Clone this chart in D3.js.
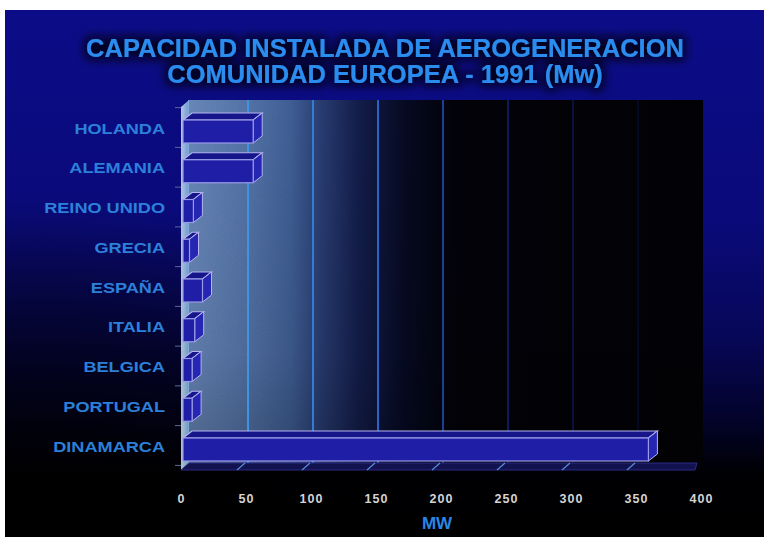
<!DOCTYPE html>
<html>
<head>
<meta charset="utf-8">
<script src="https://cdn.jsdelivr.net/npm/d3@7"></script>
<style>
  html, body { margin: 0; padding: 0; background: #ffffff; }
  svg { display: block; }
  text { font-family: "Liberation Sans", Arial, sans-serif; font-weight: bold; }
</style>
</head>
<body>
<script>
const categories = ["HOLANDA", "ALEMANIA", "REINO UNIDO", "GRECIA", "ESPAÑA", "ITALIA", "BELGICA", "PORTUGAL", "DINAMARCA"];
const values = [54, 54, 8, 5, 15, 9, 7, 7, 358];
const tickValues = [0, 50, 100, 150, 200, 250, 300, 350, 400];
const titleLines = ["CAPACIDAD INSTALADA DE AEROGENERACION", "COMUNIDAD EUROPEA - 1991 (Mw)"];
const axisTitle = "MW";

const W = 764, H = 537;
const svg = d3.select("body").append("svg").attr("width", W).attr("height", H);
const defs = svg.append("defs");

// background gradient
const bg = defs.append("linearGradient").attr("id", "bgGrad").attr("x1", 0).attr("y1", 0).attr("x2", 0).attr("y2", 1);
[[0, "#0c0c88"], [0.4, "#0a0a7a"], [0.62, "#070758"], [0.78, "#03032a"], [0.88, "#000004"], [1, "#000000"]]
  .forEach(([o, c]) => bg.append("stop").attr("offset", o).attr("stop-color", c));
const dark = defs.append("radialGradient").attr("id", "darkGrad").attr("cx", 0.05).attr("cy", 0.95).attr("r", 0.6);
[[0, "#000000", 0.85], [0.6, "#000000", 0.45], [1, "#000000", 0]]
  .forEach(([o, c, op]) => dark.append("stop").attr("offset", o).attr("stop-color", c).attr("stop-opacity", op));

// wall gradient
const wg = defs.append("linearGradient").attr("id", "wallGrad").attr("x1", 0).attr("y1", 0).attr("x2", 1).attr("y2", 0);
[[0, "#6282b4"], [0.1, "#4f6fa4"], [0.2, "#3b5a90"], [0.26, "#26396e"], [0.33, "#131d4a"], [0.42, "#060a22"], [0.52, "#020208"], [1, "#020206"]]
  .forEach(([o, c]) => wg.append("stop").attr("offset", o).attr("stop-color", c));
const wv = defs.append("linearGradient").attr("id", "wallV").attr("x1", 0).attr("y1", 0).attr("x2", 0).attr("y2", 1);
[[0, "#000000", 0.0], [0.7, "#000000", 0.08], [1, "#000000", 0.25]]
  .forEach(([o, c, op]) => wv.append("stop").attr("offset", o).attr("stop-color", c).attr("stop-opacity", op));

// noise fade mask
const mg = defs.append("linearGradient").attr("id", "maskGrad").attr("x1", 0).attr("y1", 0).attr("x2", 1).attr("y2", 0);
[[0, "#ffffff"], [0.2, "#ffffff"], [0.4, "#555555"], [0.6, "#000000"], [1, "#000000"]]
  .forEach(([o, c]) => mg.append("stop").attr("offset", o).attr("stop-color", c));

// side wall gradient
const sg = defs.append("linearGradient").attr("id", "sideGrad").attr("x1", 0).attr("y1", 0).attr("x2", 1).attr("y2", 0);
[[0, "#cfe6f8"], [1, "#7fb0de"]].forEach(([o, c]) => sg.append("stop").attr("offset", o).attr("stop-color", c));

// noise
const nf = defs.append("filter").attr("id", "noise").attr("x", 0).attr("y", 0).attr("width", 1).attr("height", 1);
nf.append("feTurbulence").attr("type", "fractalNoise").attr("baseFrequency", 0.9).attr("numOctaves", 2).attr("result", "t");
nf.append("feColorMatrix").attr("type", "matrix")
  .attr("values", "0 0 0 0 0.6  0 0 0 0 0.7  0 0 0 0 0.9  0 0 0 0.5 0");

// title glow
const tf = defs.append("filter").attr("id", "titleShadow").attr("x", -0.1).attr("y", -0.6).attr("width", 1.2).attr("height", 2.2);
tf.append("feMorphology").attr("in", "SourceAlpha").attr("operator", "dilate").attr("radius", 3).attr("result", "d");
tf.append("feGaussianBlur").attr("in", "d").attr("stdDeviation", 5).attr("result", "b");
tf.append("feFlood").attr("flood-color", "#000010").attr("flood-opacity", 0.85);
tf.append("feComposite").attr("in2", "b").attr("operator", "in").attr("result", "s");
const fm = tf.append("feMerge");
fm.append("feMergeNode").attr("in", "s");
fm.append("feMergeNode").attr("in", "SourceGraphic");

// slide background
svg.append("rect").attr("x", 5).attr("y", 10).attr("width", W - 5).attr("height", H - 10).attr("fill", "url(#bgGrad)");
svg.append("rect").attr("x", 5).attr("y", 10).attr("width", W - 5).attr("height", H - 10).attr("fill", "url(#darkGrad)");

// title
const title = svg.append("g").attr("filter", "url(#titleShadow)");
title.selectAll("text").data(titleLines).join("text")
  .attr("x", 385).attr("y", (d, i) => 57 + i * 26)
  .attr("text-anchor", "middle").attr("font-size", 25.5).attr("fill", "#2c8cee")
  .text(d => d);

// scales
const x = d3.scaleLinear().domain([0, 400]).range([183, 703]);
const y = d3.scalePoint().domain(categories).range([131.5, 449.5]);
const step = y.step();
const wallTop = 100, wallBottom = 463;
const dx = 9, dy = -7, bh = 23;
const wallX = x(0) + 5, wallW = x(400) - x(0) - 5, wallH = wallBottom - wallTop;

defs.append("mask").attr("id", "noiseMask")
  .append("rect").attr("x", wallX).attr("y", wallTop).attr("width", 300).attr("height", wallH).attr("fill", "url(#maskGrad)");

// back wall
svg.append("rect").attr("x", wallX).attr("y", wallTop).attr("width", wallW).attr("height", wallH).attr("fill", "url(#wallGrad)");
svg.append("rect").attr("x", wallX).attr("y", wallTop).attr("width", 300).attr("height", wallH)
  .attr("filter", "url(#noise)").attr("opacity", 0.22).attr("mask", "url(#noiseMask)");
svg.append("rect").attr("x", wallX).attr("y", wallTop).attr("width", wallW).attr("height", wallH).attr("fill", "url(#wallV)");

// gridlines
const gridColor = d3.scaleLinear().domain([50, 150, 250, 350]).range(["#3a96e0", "#2a64c8", "#0e1a5c", "#040822"]);
svg.append("g").selectAll("line").data(tickValues.filter(v => v > 0 && v < 400)).join("line")
  .attr("x1", d => x(d)).attr("x2", d => x(d))
  .attr("y1", wallTop).attr("y2", wallBottom)
  .attr("stroke", d => gridColor(d)).attr("stroke-width", 2);

// left side wall
svg.append("path")
  .attr("d", `M${x(0) - 2},${wallTop + 7} L${x(0) + 6},${wallTop} L${x(0) + 6},${wallBottom} L${x(0) - 2},${wallBottom + 7} Z`)
  .attr("fill", "url(#sideGrad)").attr("opacity", 0.85);

// floor
svg.append("path")
  .attr("d", `M${x(0) - 2},${wallBottom + 7} L${x(0) + 6},${wallBottom} L${x(400) - 6},${wallBottom} L${x(400) - 8},${wallBottom + 7} Z`)
  .attr("fill", "#12124e").attr("stroke", "#34349a").attr("stroke-width", 0.8);
svg.append("g").selectAll("line").data(tickValues.filter(v => v > 0 && v < 400)).join("line")
  .attr("x1", d => x(d) - 11).attr("y1", wallBottom + 7)
  .attr("x2", d => x(d) - 3).attr("y2", wallBottom)
  .attr("stroke", "#5a8ad8").attr("stroke-width", 1.2);

// y ticks
svg.append("g").selectAll("line").data(d3.range(categories.length + 1)).join("line")
  .attr("x1", x(0) - 8).attr("x2", x(0) - 2)
  .attr("y1", i => y(categories[0]) - step / 2 - 4 + i * step)
  .attr("y2", i => y(categories[0]) - step / 2 - 4 + i * step)
  .attr("stroke", "#5a6a9a").attr("stroke-width", 1);

// bars
const bars = svg.append("g").selectAll("g").data(categories.map((c, i) => ({ c, v: values[i] }))).join("g");
bars.append("path") // top face
  .attr("d", d => {
    const x0 = x(0), x1 = x(d.v), t = y(d.c) - bh / 2;
    return `M${x0},${t} L${x0 + dx},${t + dy} L${x1 + dx},${t + dy} L${x1},${t} Z`;
  })
  .attr("fill", "#16168a").attr("stroke", "#b4b4f0").attr("stroke-width", 1.2);
bars.append("path") // side face
  .attr("d", d => {
    const x1 = x(d.v), t = y(d.c) - bh / 2;
    return `M${x1},${t} L${x1 + dx},${t + dy} L${x1 + dx},${t + dy + bh} L${x1},${t + bh} Z`;
  })
  .attr("fill", "#2626b4").attr("stroke", "#b4b4f0").attr("stroke-width", 1);
bars.append("rect") // front face
  .attr("x", x(0)).attr("y", d => y(d.c) - bh / 2)
  .attr("width", d => x(d.v) - x(0)).attr("height", bh)
  .attr("fill", "#1e1ea6").attr("stroke", "#9a9ae8").attr("stroke-width", 1.2);

// category labels
svg.append("g").selectAll("text").data(categories).join("text")
  .attr("transform", d => `translate(165,${y(d) + 2}) scale(1.21,1)`)
  .attr("text-anchor", "end").attr("font-size", 15).attr("fill", "#2c80da")
  .text(d => d);

// x axis
const axis = svg.append("g").attr("transform", `translate(-2,${wallBottom + 7})`)
  .call(d3.axisBottom(x).tickValues(tickValues).tickSize(0).tickPadding(0));
axis.select(".domain").remove();
axis.selectAll("text")
  .attr("y", 33).attr("dy", 0)
  .attr("font-size", 12.5).attr("fill", "#d4d4d4")
  .attr("font-family", "Liberation Sans, Arial, sans-serif").attr("font-weight", "bold")
  .style("letter-spacing", "1px");

svg.append("text").attr("x", 437).attr("y", 529).attr("text-anchor", "middle")
  .attr("font-size", 17).attr("fill", "#2a86e6").text(axisTitle);
</script>
</body>
</html>
